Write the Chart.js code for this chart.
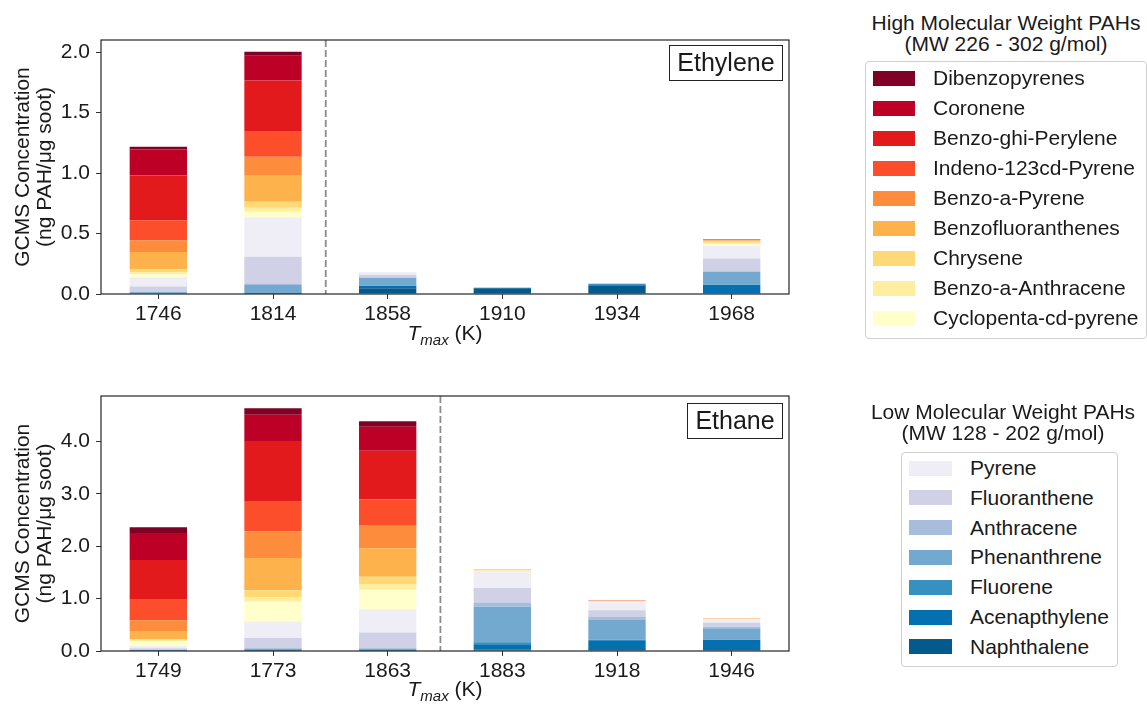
<!DOCTYPE html>
<html>
<head>
<meta charset="utf-8">
<script src="https://cdn.jsdelivr.net/npm/chart.js@4.4.1/dist/chart.umd.min.js"></script>
<style>
  body { margin: 0; background: #fff; font-family: "Liberation Sans", Arial, sans-serif; color: #1a1a1a; }
  #wrap { position: relative; width: 1147px; height: 706px; overflow: hidden; }
  canvas { position: absolute; left: 0; }
  .xtitle { position: absolute; left: 345px; width: 200px; text-align: center; font-size: 21px; line-height: 24px; }
  .tag { position: absolute; box-sizing: border-box; border: 1.3px solid #222; font-size: 25px; text-align: center; line-height: 33px; height: 36px; }
  .lgtitle { position: absolute; width: 300px; text-align: center; font-size: 21px; line-height: 21px; }
  .lgbox { position: absolute; box-sizing: border-box; border: 1px solid #cfcfcf; border-radius: 4px; }
  .sw { position: absolute; height: 15px; }
  .lt { position: absolute; font-size: 21px; line-height: 24px; white-space: nowrap; }
</style>
</head>
<body>
<div id="wrap">
  <canvas id="top" width="800" height="350" style="top:0"></canvas>
  <canvas id="bottom" width="800" height="350" style="top:356px"></canvas>
  <div class="xtitle" style="top:321px"><i>T</i><sub style="font-size:15px"><i>max</i></sub> (K)</div>
  <div class="xtitle" style="top:677px"><i>T</i><sub style="font-size:15px"><i>max</i></sub> (K)</div>
  <div class="tag" style="left:669px;top:45px;width:114px">Ethylene</div>
  <div class="tag" style="left:687px;top:403px;width:96px">Ethane</div>
  <div class="lgtitle" style="left:856px;top:12px">High Molecular Weight PAHs<br>(MW 226 - 302 g/mol)</div>
  <div class="lgtitle" style="left:853px;top:401px">Low Molecular Weight PAHs<br>(MW 128 - 202 g/mol)</div>
  <div class="lgbox" style="left:865px;top:61px;width:282px;height:278px"></div>
  <div class="lgbox" style="left:901px;top:452px;width:217px;height:215px"></div>
</div>
<script>
// species, stacked from the bottom up
const speciesNames = [
  'Naphthalene', 'Acenapthylene', 'Fluorene', 'Phenanthrene', 'Anthracene',
  'Fluoranthene', 'Pyrene',
  'Cyclopenta-cd-pyrene', 'Benzo-a-Anthracene', 'Chrysene', 'Benzofluoranthenes',
  'Benzo-a-Pyrene', 'Indeno-123cd-Pyrene', 'Benzo-ghi-Perylene', 'Coronene', 'Dibenzopyrenes'
];
const speciesColors = [
  '#045a8d', '#0570b0', '#3690c0', '#74a9cf', '#a6bddb', '#d0d1e6', '#efedf5',
  '#ffffcc', '#ffeda0', '#fed976', '#feb24c', '#fd8d3c', '#fc4e2a', '#e31a1c', '#bd0026', '#800026'
];
const lowCount = 7; // first 7 species are low molecular weight

// Ethylene flames
const ethyleneLabels = ['1746', '1814', '1858', '1910', '1934', '1968'];
const ethylene1746 = [0.004, 0.004, 0.002, 0.006, 0.001, 0.044, 0.077, 0.025, 0.017, 0.025, 0.143, 0.096, 0.165, 0.371, 0.215, 0.022];
const ethylene1814 = [0.003, 0.003, 0.003, 0.065, 0.008, 0.226, 0.325, 0.047, 0.033, 0.050, 0.215, 0.157, 0.212, 0.418, 0.204, 0.033];
const ethylene1858 = [0.047, 0.019, 0.004, 0.065, 0.002, 0.022, 0.022, 0, 0, 0, 0, 0, 0, 0, 0, 0];
const ethylene1910 = [0.048, 0.004, 0, 0, 0, 0, 0, 0, 0, 0, 0, 0, 0, 0, 0, 0];
const ethylene1934 = [0.069, 0.011, 0, 0, 0, 0, 0.004, 0, 0, 0, 0, 0, 0, 0.002, 0, 0];
const ethylene1968 = [0.005, 0.069, 0.004, 0.106, 0.004, 0.106, 0.102, 0.016, 0.011, 0.011, 0.008, 0.006, 0.003, 0.003, 0, 0];

// Ethane flames
const ethaneLabels = ['1749', '1773', '1863', '1883', '1918', '1946'];
const ethane1749 = [0.005, 0.003, 0.002, 0.012, 0.004, 0.025, 0.045, 0.096, 0.019, 0.013, 0.160, 0.204, 0.390, 0.760, 0.517, 0.109];
const ethane1773 = [0.004, 0.008, 0.004, 0.031, 0.004, 0.198, 0.313, 0.377, 0.089, 0.134, 0.613, 0.511, 0.581, 1.143, 0.504, 0.121];
const ethane1863 = [0.004, 0.008, 0.006, 0.030, 0.003, 0.300, 0.441, 0.377, 0.109, 0.140, 0.543, 0.447, 0.485, 0.932, 0.460, 0.102];
const ethane1883 = [0.025, 0.103, 0.038, 0.677, 0.083, 0.275, 0.326, 0, 0.010, 0.020, 0.008, 0, 0, 0, 0, 0];
const ethane1918 = [0.010, 0.194, 0.010, 0.386, 0.051, 0.128, 0.147, 0.008, 0.008, 0.008, 0.006, 0.004, 0.002, 0.002, 0, 0];
const ethane1946 = [0.013, 0.198, 0.010, 0.214, 0.026, 0.077, 0.064, 0.006, 0.006, 0.006, 0.004, 0.002, 0.001, 0.001, 0, 0];

const yTitle = ['GCMS Concentration', '(ng PAH/\u03bcg soot)'];
const FONT = '"Liberation Sans", Arial, sans-serif';

// frame round the plot and dashed separator
const framePlugin = {
  id: 'frame',
  afterDatasetsDraw(chart, args, opts) {
    const { ctx, chartArea: a, scales } = chart;
    ctx.save();
    const x = scales.x.getPixelForValue(opts.sepAt);
    ctx.strokeStyle = '#8c8c8c';
    ctx.lineWidth = 1.8;
    ctx.setLineDash([7, 3]);
    ctx.beginPath();
    ctx.moveTo(x, a.top);
    ctx.lineTo(x, a.bottom);
    ctx.stroke();
    ctx.setLineDash([]);
    ctx.strokeStyle = '#262626';
    ctx.lineWidth = 1.2;
    ctx.strokeRect(a.left, a.top, a.right - a.left, a.bottom - a.top);
    ctx.restore();
  }
};

function makeChart(id, labels, bars, yMax, yStep, sepAt, padBottom) {
  const datasets = speciesNames.map((name, i) => ({
    label: name,
    data: bars.map(b => b[i]),
    backgroundColor: speciesColors[i],
    borderWidth: 0,
    barPercentage: 0.5,
    categoryPercentage: 1.0
  }));
  const tickGrid = { display: true, drawOnChartArea: false, drawTicks: true, tickLength: 5, tickColor: '#333', offset: false };
  return new Chart(document.getElementById(id), {
    type: 'bar',
    data: { labels: labels, datasets: datasets },
    options: {
      responsive: false,
      animation: false,
      devicePixelRatio: 1,
      layout: { padding: { top: 40, right: 11, bottom: padBottom, left: 0 } },
      plugins: { legend: { display: false }, tooltip: { enabled: false }, frame: { sepAt: sepAt } },
      scales: {
        x: {
          stacked: true,
          offset: true,
          grid: tickGrid,
          border: { display: false },
          ticks: { color: '#1a1a1a', font: { family: FONT, size: 21 }, padding: 3, maxRotation: 0 },
          afterFit: s => { s.height = 30; }
        },
        y: {
          stacked: true,
          min: 0,
          max: yMax,
          grid: tickGrid,
          border: { display: false },
          ticks: {
            stepSize: yStep,
            includeBounds: false,
            color: '#1a1a1a',
            font: { family: FONT, size: 21 },
            padding: 6,
            callback: v => v.toFixed(1)
          },
          title: {
            display: true,
            text: yTitle,
            color: '#1a1a1a',
            font: { family: FONT, size: 21, lineHeight: 1.05 },
            padding: { top: 12, bottom: 0 }
          },
          afterFit: s => { s.width = 101; }
        }
      }
    },
    plugins: [framePlugin]
  });
}

makeChart('top', ethyleneLabels,
  [ethylene1746, ethylene1814, ethylene1858, ethylene1910, ethylene1934, ethylene1968],
  2.1, 0.5, 1.46, 26);
makeChart('bottom', ethaneLabels,
  [ethane1749, ethane1773, ethane1863, ethane1883, ethane1918, ethane1946],
  4.87, 1.0, 2.46, 25);

// legends built from the same species lists (top-down order as in the figure)
const wrap = document.getElementById('wrap');
function addLegend(indices, swX, swW, textX, firstY, step) {
  indices.forEach((i, k) => {
    const cy = firstY + k * step;
    const sw = document.createElement('div');
    sw.className = 'sw';
    sw.style.left = swX + 'px';
    sw.style.width = swW + 'px';
    sw.style.top = (cy - 7.5) + 'px';
    sw.style.background = speciesColors[i];
    wrap.appendChild(sw);
    const t = document.createElement('div');
    t.className = 'lt';
    t.style.left = textX + 'px';
    t.style.top = (cy - 12) + 'px';
    t.textContent = speciesNames[i];
    wrap.appendChild(t);
  });
}
const highIdx = [];
for (let i = speciesNames.length - 1; i >= lowCount; i--) highIdx.push(i);
const lowIdx = [];
for (let i = lowCount - 1; i >= 0; i--) lowIdx.push(i);
addLegend(highIdx, 873, 42, 933, 78, 30);
addLegend(lowIdx, 909, 43, 970, 468, 29.8);
</script>
</body>
</html>
